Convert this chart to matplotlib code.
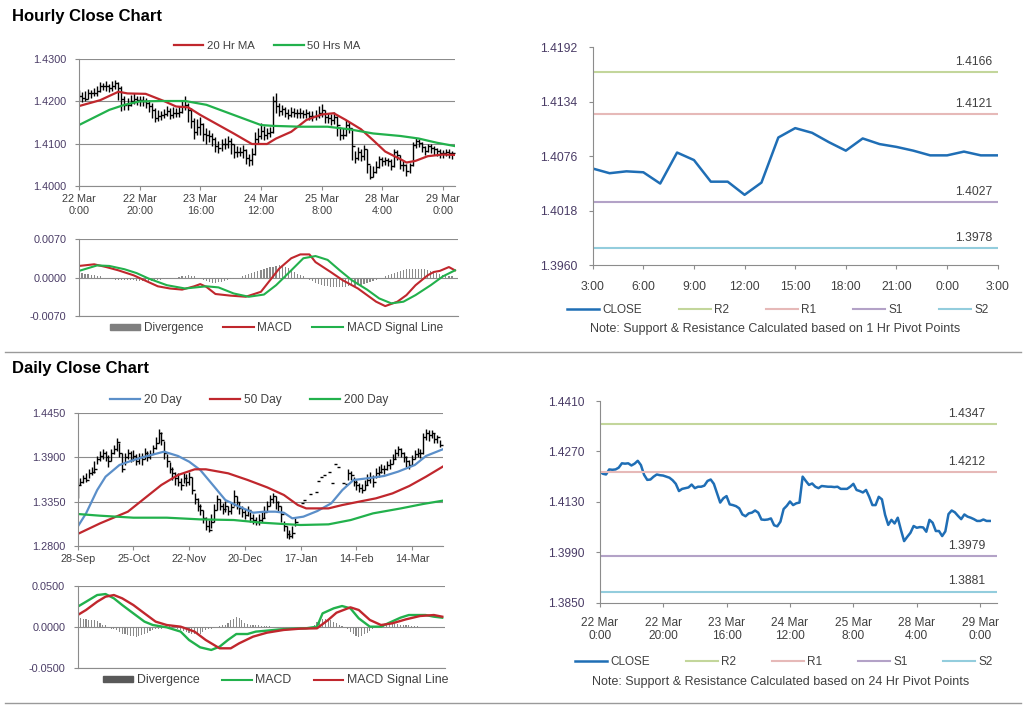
import numpy as np
import matplotlib.pyplot as plt
from matplotlib.lines import Line2D
from matplotlib.patches import Patch

plt.rcParams['font.family'] = ['Liberation Sans', 'DejaVu Sans']
plt.rcParams['font.size'] = 8

# ---------------- hourly data: 22 Mar 0:00 .. 29 Mar 3:00 ----------------
hour_ticks = ['22 Mar\n0:00', '22 Mar\n20:00', '23 Mar\n16:00', '24 Mar\n12:00',
              '25 Mar\n8:00', '28 Mar\n4:00', '29 Mar\n0:00']

hourly_close = [
    1.4214, 1.4208, 1.4206, 1.4220, 1.4219, 1.4220, 1.4225, 1.4237, 1.4236, 1.4237,
    1.4231, 1.4236, 1.4244, 1.4232, 1.4205, 1.4191, 1.4192, 1.4200, 1.4206, 1.4204,
    1.4203, 1.4200, 1.4197, 1.4190, 1.4180, 1.4160, 1.4166, 1.4168, 1.4170, 1.4178,
    1.4168, 1.4172, 1.4172, 1.4175, 1.4188, 1.4192, 1.4180, 1.4154, 1.4128, 1.4140,
    1.4146, 1.4123, 1.4121, 1.4118, 1.4112, 1.4095, 1.4090, 1.4098, 1.4100, 1.4106,
    1.4100, 1.4081, 1.4080, 1.4081, 1.4084, 1.4065, 1.4062, 1.4075, 1.4110, 1.4119,
    1.4131, 1.4121, 1.4126, 1.4128, 1.4200, 1.4188, 1.4177, 1.4181, 1.4172, 1.4168,
    1.4174, 1.4173, 1.4172, 1.4172, 1.4171, 1.4172, 1.4166, 1.4166, 1.4166, 1.4172,
    1.4180, 1.4163, 1.4160, 1.4156, 1.4163, 1.4144, 1.4121, 1.4121, 1.4144, 1.4137,
    1.4094, 1.4066, 1.4080, 1.4070, 1.4086, 1.4052, 1.4021, 1.4033, 1.4044, 1.4063,
    1.4058, 1.4060, 1.4059, 1.4047, 1.4080, 1.4072, 1.4049, 1.4049, 1.4035, 1.4048,
    1.4096, 1.4106, 1.4101, 1.4091, 1.4082, 1.4095, 1.4089, 1.4086, 1.4082, 1.4077,
    1.4077, 1.4081, 1.4077, 1.4077]

hourly_high = [
    1.4226, 1.4222, 1.4224, 1.4230, 1.4228, 1.4232, 1.4236, 1.4246, 1.4244, 1.4248,
    1.4242, 1.4248, 1.4252, 1.4246, 1.4236, 1.4212, 1.4208, 1.4216, 1.4220, 1.4214,
    1.4214, 1.4212, 1.4208, 1.4204, 1.4196, 1.4184, 1.4180, 1.4178, 1.4182, 1.4190,
    1.4184, 1.4186, 1.4184, 1.4190, 1.4200, 1.4214, 1.4196, 1.4184, 1.4160, 1.4158,
    1.4162, 1.4148, 1.4136, 1.4132, 1.4126, 1.4116, 1.4106, 1.4110, 1.4114, 1.4118,
    1.4114, 1.4100, 1.4094, 1.4092, 1.4096, 1.4088, 1.4076, 1.4090, 1.4128, 1.4136,
    1.4148, 1.4142, 1.4138, 1.4140, 1.4212, 1.4220, 1.4196, 1.4192, 1.4186, 1.4182,
    1.4186, 1.4184, 1.4182, 1.4184, 1.4180, 1.4182, 1.4178, 1.4178, 1.4180, 1.4190,
    1.4194, 1.4180, 1.4172, 1.4170, 1.4174, 1.4166, 1.4140, 1.4136, 1.4156, 1.4152,
    1.4136, 1.4082, 1.4092, 1.4086, 1.4096, 1.4088, 1.4050, 1.4046, 1.4058, 1.4070,
    1.4068, 1.4068, 1.4066, 1.4064, 1.4086, 1.4084, 1.4074, 1.4058, 1.4052, 1.4054,
    1.4104, 1.4114, 1.4110, 1.4104, 1.4094, 1.4100, 1.4098, 1.4094, 1.4090, 1.4086,
    1.4084, 1.4088, 1.4086, 1.4082]

hourly_low = [
    1.4200, 1.4198, 1.4200, 1.4206, 1.4208, 1.4212, 1.4214, 1.4222, 1.4226, 1.4224,
    1.4222, 1.4224, 1.4230, 1.4204, 1.4178, 1.4180, 1.4180, 1.4188, 1.4194, 1.4192,
    1.4190, 1.4188, 1.4184, 1.4176, 1.4160, 1.4152, 1.4154, 1.4156, 1.4160, 1.4166,
    1.4158, 1.4160, 1.4162, 1.4164, 1.4172, 1.4180, 1.4150, 1.4136, 1.4110, 1.4120,
    1.4120, 1.4106, 1.4100, 1.4104, 1.4094, 1.4080, 1.4078, 1.4082, 1.4086, 1.4090,
    1.4076, 1.4066, 1.4068, 1.4070, 1.4066, 1.4052, 1.4046, 1.4050, 1.4072, 1.4100,
    1.4112, 1.4108, 1.4112, 1.4116, 1.4124, 1.4172, 1.4166, 1.4168, 1.4162, 1.4158,
    1.4162, 1.4162, 1.4160, 1.4160, 1.4160, 1.4160, 1.4156, 1.4154, 1.4156, 1.4160,
    1.4164, 1.4148, 1.4148, 1.4144, 1.4146, 1.4118, 1.4108, 1.4110, 1.4118, 1.4124,
    1.4060, 1.4054, 1.4062, 1.4058, 1.4060, 1.4030, 1.4016, 1.4020, 1.4030, 1.4042,
    1.4046, 1.4048, 1.4046, 1.4038, 1.4044, 1.4060, 1.4040, 1.4036, 1.4024, 1.4030,
    1.4046, 1.4090, 1.4092, 1.4080, 1.4072, 1.4080, 1.4078, 1.4074, 1.4070, 1.4066,
    1.4066, 1.4070, 1.4066, 1.4064]

ma20_hr_x = [0, 7, 13, 16, 22, 28, 32, 36, 40, 45, 51, 57, 62, 65, 70, 75, 80, 84, 88,
             93, 97, 101, 106, 108, 111, 115, 120, 124]
ma20_hr = [1.4189, 1.4203, 1.4223, 1.4219, 1.4218, 1.4201, 1.4188, 1.4186, 1.4168, 1.4148,
           1.4124, 1.4099, 1.4099, 1.4112, 1.4128, 1.4156, 1.4169, 1.4172, 1.4156,
           1.4134, 1.4108, 1.4081, 1.4063, 1.4055, 1.4059, 1.4070, 1.4074, 1.4073]
ma50_hr_x = [0, 5, 10, 15, 20, 27, 35, 42, 51, 60, 64, 73, 82, 89, 97, 106, 112, 118, 124]
ma50_hr = [1.4144, 1.4162, 1.4180, 1.4192, 1.4200, 1.4201, 1.4201, 1.4192, 1.4168, 1.4144,
           1.4142, 1.4140, 1.4140, 1.4134, 1.4124, 1.4118, 1.4112, 1.4102, 1.4094]

macd_hr_x = [0, 5, 9, 13, 18, 22, 26, 30, 34, 38, 40, 42, 45, 50, 55, 60, 63, 66, 70, 73,
             76, 78, 83, 87, 92, 95, 98, 101, 105, 108, 111, 115, 117, 119, 122, 124]
macd_hr = [0.0021, 0.0024, 0.0019, 0.0013, 0.0004, -0.0006, -0.0016, -0.0020, -0.0022,
           -0.0016, -0.0012, -0.0017, -0.0030, -0.0033, -0.0035, -0.0026, -0.0005, 0.0016,
           0.0035, 0.0042, 0.0042, 0.0028, 0.0010, -0.0005, -0.0020, -0.0032, -0.0044,
           -0.0052, -0.0044, -0.0032, -0.0014, 0.0004, 0.0010, 0.0012, 0.0019, 0.0013]
signal_hr_x = [0, 6, 10, 15, 19, 23, 29, 35, 42, 46, 51, 56, 61, 65, 70, 74, 78, 82, 86,
               90, 95, 99, 103, 107, 111, 116, 120, 124]
signal_hr = [0.0012, 0.0022, 0.0021, 0.0015, 0.0008, -0.0002, -0.0014, -0.0020, -0.0016,
             -0.0018, -0.0029, -0.0035, -0.0031, -0.0014, 0.0013, 0.0035, 0.0039, 0.0032,
             0.0013, -0.0005, -0.0022, -0.0038, -0.0047, -0.0044, -0.0032, -0.0014,
             0.0002, 0.0013]
divergence_hr = [
    0.0008, 0.0008, 0.0007, 0.0006, 0.0005, 0.0004, 0.0003, 0.0002, 0.0000, -0.0001,
    -0.0002, -0.0003, -0.0004, -0.0004, -0.0005, -0.0005, -0.0004, -0.0004, -0.0005, -0.0006,
    -0.0006, -0.0007, -0.0007, -0.0006, -0.0006, -0.0005, -0.0005, -0.0004, -0.0003, -0.0003,
    -0.0002, -0.0001, 0.0000, 0.0001, 0.0002, 0.0003, 0.0004, 0.0003, 0.0002, 0.0000,
    -0.0002, -0.0004, -0.0006, -0.0008, -0.0010, -0.0010, -0.0009, -0.0008, -0.0006, -0.0004,
    -0.0003, -0.0002, -0.0001, 0.0000, 0.0002, 0.0004, 0.0006, 0.0008, 0.0010, 0.0012,
    0.0014, 0.0016, 0.0018, 0.0019, 0.0020, 0.0021, 0.0022, 0.0022, 0.0020, 0.0018,
    0.0014, 0.0010, 0.0007, 0.0004, 0.0002, -0.0001, -0.0004, -0.0007, -0.0010, -0.0012,
    -0.0014, -0.0015, -0.0016, -0.0017, -0.0017, -0.0018, -0.0018, -0.0017, -0.0017, -0.0016,
    -0.0016, -0.0015, -0.0014, -0.0013, -0.0012, -0.0010, -0.0008, -0.0006, -0.0004, -0.0002,
    0.0000, 0.0002, 0.0004, 0.0006, 0.0008, 0.0010, 0.0012, 0.0014, 0.0015, 0.0016,
    0.0016, 0.0016, 0.0016, 0.0016, 0.0015, 0.0014, 0.0012, 0.0010, 0.0008, 0.0006,
    0.0005, 0.0004, 0.0003, 0.0002]

# ---------------- pivots ----------------
pivot_names = ['R2', 'R1', 'S1', 'S2']
pivot_colors = ['#C3D69B', '#E6B9B8', '#B3A2C7', '#93CDDD']
pivot_1hr = [1.4166, 1.4121, 1.4027, 1.3978]
pivot_24hr = [1.4347, 1.4212, 1.3979, 1.3881]
last24_ticks = ['3:00', '6:00', '9:00', '12:00', '15:00', '18:00', '21:00', '0:00', '3:00']

# ---------------- daily data: 28-Sep .. 25-Mar ----------------
day_ticks = ['28-Sep', '25-Oct', '22-Nov', '20-Dec', '17-Jan', '14-Feb', '14-Mar']
nan = float('nan')
daily_close = [
    1.3560, 1.3600, 1.3640, 1.3620, 1.3700, 1.3720, 1.3760, 1.3880, 1.3920, 1.3950,
    1.3900, 1.3850, 1.3960, 1.4000, 1.4090, 1.3960, 1.3760, 1.3900, 1.3950, 1.3880,
    1.3920, 1.3850, 1.3900, 1.3880, 1.3960, 1.3900, 1.3940, 1.4020, 1.4080, 1.4200,
    1.4120, 1.3950, 1.3850, 1.3760, 1.3700, 1.3640, 1.3600, 1.3560, 1.3640, 1.3600,
    1.3660, 1.3500, 1.3380, 1.3300, 1.3240, 1.3150, 1.3050, 1.3000, 1.3100, 1.3250,
    1.3380, 1.3300, 1.3260, 1.3300, 1.3230, 1.3280, 1.3420, 1.3350, 1.3270, 1.3220,
    1.3180, 1.3250, 1.3150, 1.3120, 1.3100, 1.3120, 1.3150, 1.3220, 1.3300, 1.3380,
    1.3420, 1.3350, 1.3300, 1.3200, 1.3050, 1.2950, 1.2920, 1.2960, 1.3100, nan,
    1.3336, 1.3369, nan, 1.3440, nan, 1.3465, 1.3606, 1.3660, 1.3681, nan,
    1.3723, 1.3577, 1.3814, 1.3785, nan, 1.3577, 1.3565, 1.3700, 1.3680, 1.3600,
    1.3560, 1.3520, 1.3500, 1.3560, 1.3620, 1.3650, 1.3600, 1.3700, 1.3720, 1.3760,
    1.3750, 1.3800, 1.3820, 1.3880, 1.3950, 1.4000, 1.3960, 1.3900, 1.3850, 1.3800,
    1.3880, 1.3940, 1.3960, 1.3950, 1.4150, 1.4200, 1.4180, 1.4200, 1.4130, 1.4150,
    1.4060]
daily_high = [
    1.3600, 1.3640, 1.3680, 1.3700, 1.3760, 1.3780, 1.3860, 1.3920, 1.3980, 1.4000,
    1.3980, 1.3930, 1.4000, 1.4060, 1.4140, 1.4080, 1.3960, 1.3960, 1.4010, 1.3980,
    1.3990, 1.3940, 1.3960, 1.3960, 1.4020, 1.3980, 1.3990, 1.4060, 1.4150, 1.4260,
    1.4220, 1.4110, 1.3940, 1.3840, 1.3780, 1.3720, 1.3700, 1.3640, 1.3700, 1.3690,
    1.3720, 1.3660, 1.3460, 1.3390, 1.3320, 1.3250, 1.3160, 1.3120, 1.3200, 1.3320,
    1.3430, 1.3380, 1.3330, 1.3360, 1.3300, 1.3340, 1.3490, 1.3420, 1.3340, 1.3300,
    1.3260, 1.3300, 1.3220, 1.3200, 1.3160, 1.3200, 1.3230, 1.3300, 1.3360, 1.3430,
    1.3460, 1.3420, 1.3360, 1.3290, 1.3110, 1.3040, 1.3000, 1.3050, 1.3150, nan,
    1.3336, 1.3369, nan, 1.3440, nan, 1.3465, 1.3606, 1.3660, 1.3681, nan,
    1.3723, 1.3577, 1.3814, 1.3785, nan, 1.3577, 1.3565, 1.3750, 1.3730, 1.3660,
    1.3620, 1.3580, 1.3570, 1.3620, 1.3690, 1.3720, 1.3680, 1.3770, 1.3790, 1.3820,
    1.3810, 1.3860, 1.3880, 1.3940, 1.4010, 1.4040, 1.4020, 1.3970, 1.3920, 1.3870,
    1.3930, 1.3990, 1.4020, 1.4010, 1.4200, 1.4250, 1.4240, 1.4240, 1.4200, 1.4180,
    1.4120]
daily_low = [
    1.3400, 1.3560, 1.3580, 1.3600, 1.3640, 1.3680, 1.3700, 1.3820, 1.3860, 1.3880,
    1.3860, 1.3780, 1.3860, 1.3940, 1.3980, 1.3900, 1.3720, 1.3800, 1.3880, 1.3840,
    1.3860, 1.3800, 1.3820, 1.3810, 1.3880, 1.3850, 1.3880, 1.3940, 1.4000, 1.4080,
    1.4060, 1.3880, 1.3780, 1.3700, 1.3620, 1.3560, 1.3540, 1.3500, 1.3580, 1.3540,
    1.3560, 1.3440, 1.3320, 1.3230, 1.3180, 1.3080, 1.2990, 1.2970, 1.3020, 1.3100,
    1.3240, 1.3240, 1.3190, 1.3220, 1.3180, 1.3200, 1.3300, 1.3260, 1.3200, 1.3160,
    1.3130, 1.3170, 1.3090, 1.3070, 1.3060, 1.3060, 1.3090, 1.3150, 1.3220, 1.3300,
    1.3330, 1.3260, 1.3220, 1.3100, 1.2980, 1.2900, 1.2880, 1.2900, 1.3040, nan,
    1.3336, 1.3369, nan, 1.3440, nan, 1.3465, 1.3606, 1.3660, 1.3681, nan,
    1.3723, 1.3577, 1.3814, 1.3785, nan, 1.3577, 1.3565, 1.3620, 1.3620, 1.3540,
    1.3500, 1.3470, 1.3460, 1.3500, 1.3560, 1.3580, 1.3530, 1.3640, 1.3660, 1.3700,
    1.3690, 1.3740, 1.3760, 1.3820, 1.3880, 1.3920, 1.3900, 1.3840, 1.3780, 1.3760,
    1.3800, 1.3880, 1.3900, 1.3890, 1.3940, 1.4120, 1.4110, 1.4140, 1.4080, 1.4080,
    1.4030]

ma20_day_x = [0, 3, 7, 10, 15, 20, 25, 31, 36, 40, 44, 49, 53, 58, 63, 67, 71, 74, 77,
              81, 86, 91, 95, 99, 104, 110, 115, 121, 125, 131]
ma20_day = [1.3037, 1.3203, 1.3494, 1.3660, 1.3806, 1.3868, 1.3918, 1.3972, 1.3918, 1.3847,
            1.3743, 1.3536, 1.3369, 1.3286, 1.3211, 1.3224, 1.3224, 1.3211, 1.3141,
            1.3162, 1.3232, 1.3328, 1.3494, 1.3619, 1.3640, 1.3669, 1.3723, 1.3806,
            1.3918, 1.4001]
ma50_day_x = [0, 8, 18, 24, 30, 36, 42, 46, 54, 61, 68, 74, 79, 82, 90, 95, 101, 107,
              113, 119, 125, 131]
ma50_day = [1.2946, 1.3078, 1.3224, 1.3390, 1.3556, 1.3681, 1.3752, 1.3752, 1.3702, 1.3619,
            1.3527, 1.3432, 1.3307, 1.3265, 1.3265, 1.3307, 1.3349, 1.3390, 1.3452,
            1.3544, 1.3660, 1.3785]
ma200_day_x = [0, 8, 20, 32, 44, 56, 66, 74, 80, 90, 98, 106, 116, 124, 131]
ma200_day = [1.3195, 1.3174, 1.3149, 1.3149, 1.3128, 1.3120, 1.3087, 1.3070, 1.3058, 1.3066,
             1.3120, 1.3203, 1.3265, 1.3320, 1.3361]

macd_day_x = [0, 3, 7, 10, 13, 16, 20, 24, 27, 32, 37, 40, 44, 48, 51, 54, 57, 61, 64,
              68, 73, 78, 82, 86, 88, 92, 95, 98, 101, 105, 109, 112, 116, 119, 125, 128, 131]
macd_day = [0.0246, 0.0306, 0.0387, 0.0399, 0.0347, 0.0266, 0.0165, 0.0065, 0.0024, -0.0004,
            -0.0056, -0.0157, -0.0246, -0.0278, -0.0238, -0.0157, -0.0085, -0.0085, -0.0056,
            -0.0044, -0.0028, -0.0020, -0.0016, 0.0004, 0.0165, 0.0226, 0.0254, 0.0226,
            0.0105, 0.0004, 0.0004, 0.0052, 0.0113, 0.0145, 0.0145, 0.0125, 0.0113]
signal_day_x = [0, 3, 7, 10, 13, 16, 20, 24, 28, 32, 37, 42, 46, 51, 55, 58, 63, 68, 74,
                80, 86, 90, 93, 98, 101, 105, 109, 113, 118, 123, 128, 131]
signal_day = [0.0145, 0.0206, 0.0306, 0.0367, 0.0387, 0.0347, 0.0266, 0.0165, 0.0065,
              0.0024, 0.0004, -0.0056, -0.0157, -0.0258, -0.0258, -0.0198, -0.0117,
              -0.0069, -0.0036, -0.0020, -0.0016, 0.0085, 0.0173, 0.0238, 0.0206, 0.0085,
              0.0024, 0.0044, 0.0093, 0.0133, 0.0145, 0.0125]
divergence_day = [
    0.0100, 0.0105, 0.0100, 0.0095, 0.0090, 0.0090, 0.0080, 0.0070, 0.0050, 0.0030,
    0.0020, 0.0000, -0.0020, -0.0030, -0.0040, -0.0060, -0.0080, -0.0090, -0.0100, -0.0110,
    -0.0110, -0.0120, -0.0110, -0.0100, -0.0090, -0.0070, -0.0050, -0.0040, -0.0030, -0.0020,
    -0.0020, -0.0010, 0.0000, 0.0010, 0.0010, 0.0000, -0.0020, -0.0040, -0.0050, -0.0060,
    -0.0070, -0.0080, -0.0080, -0.0090, -0.0080, -0.0060, -0.0040, -0.0030, -0.0020, -0.0010,
    0.0000, 0.0010, 0.0020, 0.0030, 0.0050, 0.0080, 0.0100, 0.0120, 0.0110, 0.0080,
    0.0050, 0.0040, 0.0030, 0.0030, 0.0020, 0.0020, 0.0010, 0.0010, 0.0010, 0.0010,
    0.0000, 0.0000, -0.0010, -0.0010, -0.0010, -0.0010, -0.0010, -0.0010, -0.0010, -0.0010,
    -0.0010, -0.0010, 0.0000, 0.0000, 0.0000, 0.0030, 0.0060, 0.0080, 0.0100, 0.0100,
    0.0090, 0.0080, 0.0060, 0.0050, 0.0030, 0.0010, 0.0000, -0.0030, -0.0060, -0.0090,
    -0.0110, -0.0120, -0.0110, -0.0090, -0.0070, -0.0050, -0.0030, -0.0010, 0.0010, 0.0030,
    0.0040, 0.0050, 0.0050, 0.0050, 0.0040, 0.0040, 0.0030, 0.0030, 0.0020, 0.0020,
    0.0010, 0.0010, 0.0010, 0.0000, 0.0000, 0.0000, -0.0010, -0.0010, -0.0010, -0.0010,
    0.0000]

# ---------------- styling ----------------
GREY = '#8C8C8C'
YLAB = '#4A3C66'
XLAB = '#404040'
RED = '#C0272D'
GREEN = '#22B14C'
BLUE = '#5B8FC9'
CLOSE_BLUE = '#1F6EB5'


def px(l, t, r, b):
    return [l / 1024, 1 - b / 706, (r - l) / 1024, (b - t) / 706]


def style(ax, grid=True, size=7.5, ypad=5, xpad=3):
    ax.spines['top'].set_visible(False)
    ax.spines['right'].set_visible(False)
    ax.spines['left'].set_color(GREY)
    ax.spines['bottom'].set_color(GREY)
    ax.tick_params(colors=GREY, length=3, width=0.8)
    ax.tick_params(axis='y', labelcolor=YLAB, labelsize=size, pad=ypad)
    ax.tick_params(axis='x', labelcolor=XLAB, labelsize=size, pad=xpad)
    ax.yaxis.set_major_formatter(plt.FormatStrFormatter('%.4f'))
    if grid:
        ax.yaxis.grid(True, color=GREY, lw=0.8)
        ax.set_axisbelow(True)


fig = plt.figure(figsize=(10.24, 7.06), dpi=100)

fig.text(12 / 1024, 1 - 16 / 706, 'Hourly Close Chart', fontsize=12, fontweight='bold', va='center')
fig.text(12 / 1024, 1 - 369 / 706, 'Daily Close Chart', fontsize=12, fontweight='bold', va='center')
for yy in (352, 703):
    fig.add_artist(Line2D([5 / 1024, 1021 / 1024], [1 - yy / 706] * 2, color='#9A9A9A', lw=1))

# ---- hourly bars with moving averages ----
hx = np.arange(len(hourly_close))
ax1 = fig.add_axes(px(79, 59.3, 455, 185.7))
style(ax1, size=7.8, ypad=6)
ax1.vlines(hx, hourly_low, hourly_high, color='black', lw=1.0)
ax1.plot(hx, hourly_close, ls='none', marker=1, ms=2, mew=1, color='black')
ax1.plot(ma20_hr_x, ma20_hr, color=RED, lw=1.6, label='20 Hr MA')
ax1.plot(ma50_hr_x, ma50_hr, color=GREEN, lw=1.6, label='50 Hrs MA')
ax1.set_ylim(1.4000, 1.4300)
ax1.set_yticks([1.4000, 1.4100, 1.4200, 1.4300])
ax1.set_xlim(0, 124)
ax1.set_xticks(np.arange(0, 121, 20))
ax1.set_xticklabels(hour_ticks)
ax1.legend(loc='lower center', bbox_to_anchor=(0.5, 1.0), ncol=2, frameon=False,
           handlelength=2.6, columnspacing=1.7, handletextpad=0.3, fontsize=8.2,
           labelcolor=XLAB, borderaxespad=0.3)

# ---- hourly MACD ----
ax2 = fig.add_axes(px(79, 239, 458, 316))
style(ax2, size=7.8, ypad=6)
ax2.bar(hx, divergence_hr, width=0.4, color='#8A8A8A')
ax2.plot(macd_hr_x, macd_hr, color=RED, lw=1.5)
ax2.plot(signal_hr_x, signal_hr, color=GREEN, lw=1.5)
ax2.set_ylim(-0.007, 0.007)
ax2.set_yticks([-0.007, 0.0, 0.007])
ax2.set_xlim(0, 125)
ax2.set_xticks([])
macd_handles = [Patch(color='#7F7F7F', label='Divergence'),
                Line2D([], [], color=RED, lw=1.5, label='MACD'),
                Line2D([], [], color=GREEN, lw=1.5, label='MACD Signal Line')]
ax2.legend(handles=macd_handles, loc='upper center', bbox_to_anchor=(0.52, 0.0), ncol=3,
           frameon=False, handlelength=2.6, handleheight=0.45, columnspacing=1.7,
           handletextpad=0.3, fontsize=8.5, labelcolor=XLAB, borderaxespad=0.1)

# ---- last 24 hours with 1 Hr pivots ----
last24 = hourly_close[-25:]
ax3 = fig.add_axes(px(592.7, 47.3, 997.7, 265.3))
style(ax3, grid=False, size=8.8, ypad=8, xpad=8)
ax3.plot(np.arange(len(last24)), last24, color=CLOSE_BLUE, lw=1.8, label='CLOSE')
for name, val, col in zip(pivot_names, pivot_1hr, pivot_colors):
    ax3.axhline(val, color=col, lw=1.5, label=name)
    ax3.annotate(f'{val:.4f}', xy=(1.0, val), xycoords=('axes fraction', 'data'),
                 xytext=(-4, 3), textcoords='offset points', ha='right', va='bottom',
                 fontsize=8.8, color='#404040')
ax3.set_ylim(1.3960, 1.4192)
ax3.set_yticks([1.3960, 1.4018, 1.4076, 1.4134, 1.4192])
ax3.set_xlim(0, 24)
ax3.set_xticks(np.arange(0, 25, 3))
ax3.set_xticklabels(last24_ticks)
fig.legend(*ax3.get_legend_handles_labels(), loc='center', bbox_to_anchor=(778 / 1024, 1 - 310 / 706),
           ncol=5, frameon=False, handlelength=2.7, columnspacing=3.1, handletextpad=0.3,
           fontsize=8.5, labelcolor=XLAB)
fig.text(775 / 1024, 1 - 329 / 706, 'Note: Support & Resistance Calculated based on 1 Hr Pivot Points',
         ha='center', va='center', fontsize=9, color=XLAB)

# ---- daily bars with moving averages ----
dx = np.arange(len(daily_close))
ax4 = fig.add_axes(px(77.7, 413.3, 442.7, 545.7))
style(ax4, size=7.8, ypad=6)
ax4.vlines(dx, daily_low, daily_high, color='black', lw=1.0)
ax4.plot(dx, daily_close, ls='none', marker=1, ms=2, mew=1, color='black')
ax4.plot(ma20_day_x, ma20_day, color=BLUE, lw=1.6, label='20 Day')
ax4.plot(ma50_day_x, ma50_day, color=RED, lw=1.6, label='50 Day')
ax4.plot(ma200_day_x, ma200_day, color=GREEN, lw=1.6, label='200 Day')
ax4.set_ylim(1.2800, 1.4450)
ax4.set_yticks([1.2800, 1.3350, 1.3900, 1.4450])
ax4.set_xlim(0, 131)
ax4.set_xticks(np.arange(0, 121, 20))
ax4.set_xticklabels(day_ticks)
ax4.legend(loc='lower center', bbox_to_anchor=(0.47, 1.0), ncol=3, frameon=False,
           handlelength=2.5, columnspacing=2.4, handletextpad=0.3, fontsize=8.6,
           labelcolor=XLAB, borderaxespad=0.2)

# ---- daily MACD ----
ax5 = fig.add_axes(px(77.7, 585.7, 445, 668.3))
style(ax5, size=7.8, ypad=6)
ax5.bar(dx, divergence_day, width=0.4, color='#8A8A8A')
ax5.plot(macd_day_x, macd_day, color=GREEN, lw=1.7)
ax5.plot(signal_day_x, signal_day, color=RED, lw=1.7)
ax5.set_ylim(-0.05, 0.05)
ax5.set_yticks([-0.05, 0.0, 0.05])
ax5.set_xlim(0, 132)
ax5.set_xticks([])
macd_day_handles = [Patch(color='#595959', label='Divergence'),
                    Line2D([], [], color=GREEN, lw=1.5, label='MACD'),
                    Line2D([], [], color=RED, lw=1.5, label='MACD Signal Line')]
ax5.legend(handles=macd_day_handles, loc='upper center', bbox_to_anchor=(0.54, 0.0), ncol=3,
           frameon=False, handlelength=2.4, handleheight=0.45, columnspacing=1.8,
           handletextpad=0.3, fontsize=8.9, labelcolor=XLAB, borderaxespad=0.1)

# ---- hourly close with 24 Hr pivots ----
ax6 = fig.add_axes(px(599.7, 401, 996.7, 602.7))
style(ax6, grid=False, size=8.6, ypad=8, xpad=7)
ax6.plot(hx, hourly_close, color=CLOSE_BLUE, lw=1.8, label='CLOSE')
for name, val, col in zip(pivot_names, pivot_24hr, pivot_colors):
    ax6.axhline(val, color=col, lw=1.5, label=name)
    ax6.annotate(f'{val:.4f}', xy=(1.0, val), xycoords=('axes fraction', 'data'),
                 xytext=(-8, 3), textcoords='offset points', ha='right', va='bottom',
                 fontsize=8.8, color='#404040')
ax6.set_ylim(1.3850, 1.4410)
ax6.set_yticks([1.3850, 1.3990, 1.4130, 1.4270, 1.4410])
ax6.set_xlim(0, 125.2)
ax6.set_xticks(np.arange(0, 121, 20))
ax6.set_xticklabels(hour_ticks)
fig.legend(*ax6.get_legend_handles_labels(), loc='center', bbox_to_anchor=(784 / 1024, 1 - 662 / 706),
           ncol=5, frameon=False, handlelength=2.7, columnspacing=3.0, handletextpad=0.3,
           fontsize=8.5, labelcolor=XLAB)
fig.text(781 / 1024, 1 - 682 / 706, 'Note: Support & Resistance Calculated based on 24 Hr Pivot Points',
         ha='center', va='center', fontsize=9, color=XLAB)

fig.savefig('out.png', dpi=100)
